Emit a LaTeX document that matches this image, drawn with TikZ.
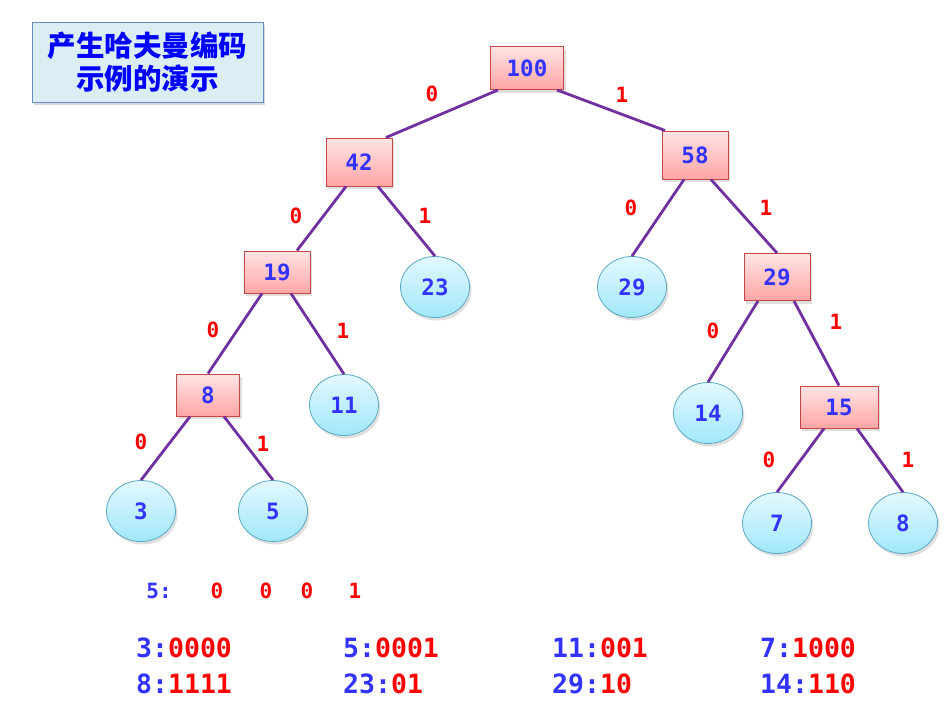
\documentclass[tikz,border=0pt]{standalone}
\usepackage{fontspec}
\setmonofont{DejaVu Sans Mono}
\newfontfamily\cjk{Noto Sans CJK SC}
\usetikzlibrary{shadows,shapes.geometric}
\definecolor{numblue}{RGB}{51,51,255}
\definecolor{codered}{RGB}{255,0,0}
\definecolor{edgepurple}{RGB}{112,48,160}
\definecolor{rectborder}{RGB}{200,70,70}
\definecolor{recttop}{RGB}{255,228,228}
\definecolor{rectbot}{RGB}{255,165,165}
\definecolor{circborder}{RGB}{90,170,200}
\definecolor{circtop}{RGB}{228,248,255}
\definecolor{circbot}{RGB}{160,232,250}
\definecolor{titlefill}{RGB}{218,238,243}
\definecolor{titleborder}{RGB}{100,140,200}
\tikzset{
  sh/.style={drop shadow={shadow xshift=2pt,shadow yshift=-3pt,opacity=0.25}},
  inner/.style={rectangle,draw=rectborder,line width=1pt,top color=recttop,bottom color=rectbot,
     minimum width=66pt,minimum height=43pt,inner sep=0pt,sh,
     font=\ttfamily\bfseries\fontsize{22.5}{22.5}\selectfont,text=numblue},
  leaf/.style={ellipse,draw=circborder,line width=0.8pt,top color=circtop,bottom color=circbot,
     minimum width=69pt,minimum height=61pt,inner sep=0pt,sh,
     font=\ttfamily\bfseries\fontsize{22.5}{22.5}\selectfont,text=numblue},
  edge/.style={draw=edgepurple,line width=2.8pt},
  bit/.style={font=\ttfamily\bfseries\fontsize{21}{21}\selectfont,text=codered,inner sep=0pt},
  code/.style={font=\ttfamily\bfseries\fontsize{26.5}{26.5}\selectfont,anchor=west,inner sep=0pt},
}
\begin{document}
\begin{tikzpicture}[x=1pt,y=-1pt]
\useasboundingbox (0,0) rectangle (949,712);
% title
\node[draw=titleborder,line width=0.8pt,fill=titlefill,minimum width=231pt,minimum height=80pt,
  drop shadow={shadow xshift=2pt,shadow yshift=-3pt,opacity=0.3},
  align=center,text=blue,font=\cjk\bfseries\fontsize{28.5}{33}\selectfont] (title) at (147.5,62)
  {产生哈夫曼编码\\示例的演示};
% internal nodes
\node[inner,minimum width=73pt] (n100) at (527,68) {100};
\node[inner,minimum height=48pt] (n42) at (359,162) {42};
\node[inner,minimum height=48pt] (n58) at (695,155) {58};
\node[inner,minimum height=42pt] (n19) at (277,272) {19};
\node[inner,minimum height=47pt] (n29) at (777,277) {29};
\node[inner,minimum width=63pt,minimum height=42pt] (n8) at (208,395) {8};
\node[inner,minimum width=78pt,minimum height=42pt] (n15) at (839,407) {15};
% leaves
\node[leaf] (l23) at (435,287) {23};
\node[leaf] (l29) at (632,287) {29};
\node[leaf] (l11) at (344,405) {11};
\node[leaf] (l14) at (708,413) {14};
\node[leaf] (l3) at (141,511) {3};
\node[leaf] (l5) at (273,511) {5};
\node[leaf] (l7) at (777,523) {7};
\node[leaf] (l8) at (903,523) {8};
% edges
\draw[edge] ([xshift=-29pt]n100.south) -- ([xshift=27pt]n42.north);
\draw[edge] ([xshift=30pt]n100.south) -- ([xshift=-30pt]n58.north);
\draw[edge] ([xshift=-13pt]n42.south) -- ([xshift=20pt]n19.north);
\draw[edge] ([xshift=19pt]n42.south) -- (l23.north);
\draw[edge] ([xshift=-11pt]n58.south) -- (l29.north);
\draw[edge] ([xshift=16pt]n58.south) -- (n29.north);
\draw[edge] ([xshift=-15pt]n19.south) -- (n8.north);
\draw[edge] ([xshift=14pt]n19.south) -- (l11.north);
\draw[edge] ([xshift=-19pt]n29.south) -- (l14.north);
\draw[edge] ([xshift=17pt]n29.south) -- (n15.north);
\draw[edge] ([xshift=-18pt]n8.south) -- (l3.north);
\draw[edge] ([xshift=16pt]n8.south) -- (l5.north);
\draw[edge] ([xshift=-15pt]n15.south) -- (l7.north);
\draw[edge] ([xshift=18pt]n15.south) -- (l8.north);
% edge labels
\node[bit] (b1) at (432,94) {0};
\node[bit] (b2) at (622,95) {1};
\node[bit] (b3) at (296,216) {0};
\node[bit] (b4) at (425,216) {1};
\node[bit] (b5) at (631,208) {0};
\node[bit] (b6) at (766,208) {1};
\node[bit] (b7) at (213,330) {0};
\node[bit] (b8) at (343,331) {1};
\node[bit] (b9) at (713,331) {0};
\node[bit] (b10) at (836,322) {1};
\node[bit] (b11) at (141,442) {0};
\node[bit] (b12) at (263,444) {1};
\node[bit] (b13) at (769,460) {0};
\node[bit] (b14) at (908,460) {1};
% path of 5
\node[bit,text=numblue] (p5) at (159,591) {5:};
\node[bit] (p1) at (217,591) {0};
\node[bit] (p2) at (266,591) {0};
\node[bit] (p3) at (307,591) {0};
\node[bit] (p4) at (355,591) {1};
% codes
\node[code] (c1) at (136,648) {\textcolor{numblue}{3:}\textcolor{codered}{0000}};
\node[code] (c2) at (136,684) {\textcolor{numblue}{8:}\textcolor{codered}{1111}};
\node[code] (c3) at (343,648) {\textcolor{numblue}{5:}\textcolor{codered}{0001}};
\node[code] (c4) at (343,684) {\textcolor{numblue}{23:}\textcolor{codered}{01}};
\node[code] (c5) at (552,648) {\textcolor{numblue}{11:}\textcolor{codered}{001}};
\node[code] (c6) at (552,684) {\textcolor{numblue}{29:}\textcolor{codered}{10}};
\node[code] (c7) at (760,648) {\textcolor{numblue}{7:}\textcolor{codered}{1000}};
\node[code] (c8) at (760,684) {\textcolor{numblue}{14:}\textcolor{codered}{110}};
\end{tikzpicture}
\end{document}
